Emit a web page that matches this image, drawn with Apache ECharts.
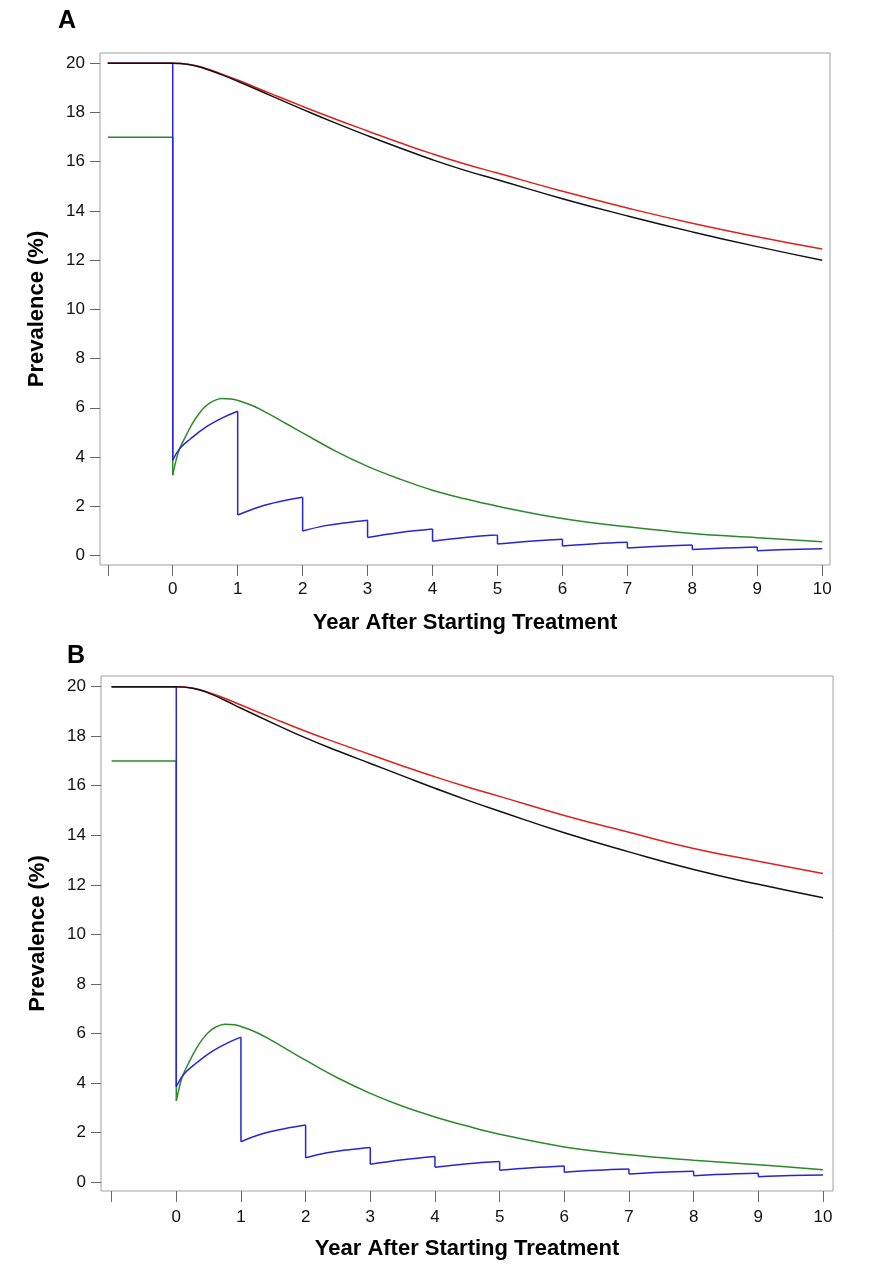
<!DOCTYPE html>
<html>
<head>
<meta charset="utf-8">
<script src="https://cdn.jsdelivr.net/npm/echarts@6/dist/echarts.min.js"></script>
<style>
  html, body { margin: 0; padding: 0; background: #ffffff; }
  #chart { width: 870px; height: 1281px; }
</style>
</head>
<body>
<div id="chart"></div>
<script>
// ---------- tick labels ----------
const xTickValues = [-1, 0, 1, 2, 3, 4, 5, 6, 7, 8, 9, 10];
const xLabelValues = [0, 1, 2, 3, 4, 5, 6, 7, 8, 9, 10];
const yTickValues = [0, 2, 4, 6, 8, 10, 12, 14, 16, 18, 20];

// ---------- smooth curves (red / black) ----------
const curveYears = [-1, 0, 0.25, 0.5, 0.75, 1, 1.5, 2, 2.5, 3, 3.5, 4, 4.5, 5, 6, 7, 8, 9, 10];
const redA   = [20, 20, 19.95, 19.8, 19.57, 19.32, 18.78, 18.25, 17.74, 17.25, 16.77, 16.32, 15.91, 15.54, 14.8, 14.12, 13.5, 12.95, 12.45];
const blackA = [20, 20, 19.95, 19.78, 19.54, 19.27, 18.7, 18.13, 17.58, 17.06, 16.56, 16.08, 15.65, 15.27, 14.5, 13.8, 13.15, 12.55, 12.0];
const redB   = [20, 20, 19.95, 19.77, 19.53, 19.26, 18.72, 18.2, 17.72, 17.26, 16.8, 16.36, 15.95, 15.57, 14.8, 14.12, 13.47, 12.95, 12.46];
const blackB = [20, 20, 19.94, 19.74, 19.45, 19.13, 18.52, 17.93, 17.4, 16.9, 16.4, 15.9, 15.42, 14.97, 14.1, 13.33, 12.62, 12.02, 11.48];

// ---------- green: pre-treatment level and drop ----------
const greenPreYears = [-1, 0, 0];
const greenPreA = [17, 17, 3.26];
const greenPreB = [17, 17, 3.28];

// ---------- green: after treatment ----------
const greenYears = [0, 0.05, 0.1, 0.2, 0.3, 0.4, 0.5, 0.6, 0.75, 0.9, 1, 1.25, 1.5, 1.75, 2, 2.5, 3, 3.5, 4, 4.5, 5, 6, 7, 8, 9, 10];
const greenA = [3.26, 3.85, 4.3, 4.85, 5.35, 5.75, 6.05, 6.24, 6.38, 6.36, 6.3, 6.06, 5.72, 5.35, 4.98, 4.25, 3.62, 3.1, 2.65, 2.3, 2.0, 1.5, 1.16, 0.89, 0.72, 0.55];
const greenB = [3.28, 3.85, 4.3, 4.85, 5.35, 5.75, 6.05, 6.24, 6.37, 6.35, 6.28, 6.03, 5.68, 5.3, 4.92, 4.2, 3.58, 3.06, 2.63, 2.26, 1.93, 1.42, 1.1, 0.88, 0.7, 0.5];

// ---------- blue: annual saw-tooth (repeated year = vertical drop) ----------
const blueYears = [-1, 0, 0, 0.11, 0.27, 0.52, 0.78, 1, 1, 1.33, 1.67, 2, 2, 2.33, 2.67, 3, 3, 3.5, 4, 4, 4.5, 5, 5, 5.5, 6, 6, 6.5, 7, 7, 7.5, 8, 8, 8.5, 9, 9, 9.5, 10];
const blueA = [20, 20, 3.87, 4.35, 4.73, 5.23, 5.61, 5.86, 1.64, 1.97, 2.2, 2.36, 0.99, 1.2, 1.33, 1.43, 0.73, 0.93, 1.07, 0.58, 0.73, 0.83, 0.46, 0.58, 0.66, 0.38, 0.47, 0.53, 0.30, 0.37, 0.42, 0.24, 0.30, 0.34, 0.19, 0.24, 0.27];
const blueB = [20, 20, 3.85, 4.33, 4.72, 5.22, 5.6, 5.85, 1.63, 1.95, 2.15, 2.3, 0.98, 1.18, 1.31, 1.4, 0.72, 0.9, 1.03, 0.6, 0.74, 0.83, 0.48, 0.58, 0.65, 0.4, 0.48, 0.53, 0.33, 0.4, 0.44, 0.26, 0.32, 0.36, 0.22, 0.27, 0.29];

// ---------- texts ----------
const panelLabels = ['A', 'B'];
const xTitle = 'Year After Starting Treatment';
const yTitle = 'Prevalence (%)';

// ---------- helpers ----------
function zip(xs, ys) { return xs.map((x, i) => [x, ys[i]]); }

// split a saw-tooth into continuous pieces and vertical drops
function splitSaw(xs, ys) {
  const pieces = [];
  const drops = [];
  let cur = [[xs[0], ys[0]]];
  for (let i = 1; i < xs.length; i++) {
    if (xs[i] === xs[i - 1]) {
      pieces.push(cur);
      if (drops.length) drops.push('-');
      drops.push([xs[i - 1], ys[i - 1]], [xs[i], ys[i]]);
      cur = [[xs[i], ys[i]]];
    } else {
      cur.push([xs[i], ys[i]]);
    }
  }
  pieces.push(cur);
  return { pieces, drops };
}

const COLORS = { red: '#e0201c', black: '#111111', green: '#2a8a2a', blue: '#2525d6' };
const FONT = 'Liberation Sans, Arial, sans-serif';

function xAxisFor(gridIndex, min, max, labelMargin, nameGap) {
  return {
    type: 'value', gridIndex, min, max,
    axisLine: { show: false, onZero: false },
    splitLine: { show: false },
    axisTick: { show: true, inside: false, length: 11, customValues: xTickValues, lineStyle: { color: '#666', width: 1 } },
    axisLabel: { show: true, customValues: xLabelValues, margin: labelMargin, fontSize: 17, color: '#111', fontFamily: FONT },
    name: xTitle, nameLocation: 'middle', nameGap,
    nameTextStyle: { fontSize: 22, fontWeight: 'bold', color: '#000', fontFamily: FONT }
  };
}
function yAxisFor(gridIndex, min, max) {
  return {
    type: 'value', gridIndex, min, max,
    axisLine: { show: false, onZero: false },
    splitLine: { show: false },
    axisTick: { show: true, inside: false, length: 10, customValues: yTickValues, lineStyle: { color: '#666', width: 1 } },
    axisLabel: { show: true, customValues: yTickValues, margin: 15, fontSize: 17, color: '#111', fontFamily: FONT },
    name: yTitle, nameLocation: 'middle', nameGap: 52, nameRotate: 90,
    nameTextStyle: { fontSize: 22, fontWeight: 'bold', color: '#000', fontFamily: FONT }
  };
}
function line(idx, data, color, smooth, z) {
  return {
    type: 'line', xAxisIndex: idx, yAxisIndex: idx, data, showSymbol: false, symbol: 'none',
    smooth: smooth, connectNulls: false,
    z: z, silent: true, animation: false,
    lineStyle: { color, width: 1.5 }
  };
}
function sawSeries(idx, xs, ys, color, z) {
  const { pieces, drops } = splitSaw(xs, ys);
  const out = pieces.map(p => line(idx, p, color, p.length > 2 ? 0.4 : false, z));
  out.push(line(idx, drops, color, false, z));
  return out;
}

const chart = echarts.init(document.getElementById('chart'), null, { renderer: 'canvas' });
chart.setOption({
  backgroundColor: '#ffffff',
  animation: false,
  grid: [
    { left: 100, top: 53, width: 730, height: 512, show: true, borderColor: '#a0a0a0', borderWidth: 1, backgroundColor: 'transparent' },
    { left: 101, top: 676, width: 732, height: 515, show: true, borderColor: '#a0a0a0', borderWidth: 1, backgroundColor: 'transparent' }
  ],
  xAxis: [
    xAxisFor(0, -1.12, 10.12, 16, 47),
    xAxisFor(1, -1.164, 10.155, 18, 47)
  ],
  yAxis: [
    yAxisFor(0, -0.39, 20.42),
    yAxisFor(1, -0.36, 20.43)
  ],
  graphic: [
    { type: 'text', left: 58, top: 9, style: { text: panelLabels[0], font: 'bold 25px ' + FONT, fill: '#000' } },
    { type: 'text', left: 67, top: 644, style: { text: panelLabels[1], font: 'bold 25px ' + FONT, fill: '#000' } }
  ],
  series: [
    line(0, zip(greenPreYears, greenPreA), COLORS.green, false, 2),
    line(0, zip(greenYears, greenA), COLORS.green, 0.4, 2),
    ...sawSeries(0, blueYears, blueA, COLORS.blue, 3),
    line(0, zip(curveYears, redA), COLORS.red, 0.5, 4),
    line(0, zip(curveYears, blackA), COLORS.black, 0.5, 5),
    line(1, zip(greenPreYears, greenPreB), COLORS.green, false, 2),
    line(1, zip(greenYears, greenB), COLORS.green, 0.4, 2),
    ...sawSeries(1, blueYears, blueB, COLORS.blue, 3),
    line(1, zip(curveYears, redB), COLORS.red, 0.5, 4),
    line(1, zip(curveYears, blackB), COLORS.black, 0.5, 5)
  ]
});
</script>
</body>
</html>
